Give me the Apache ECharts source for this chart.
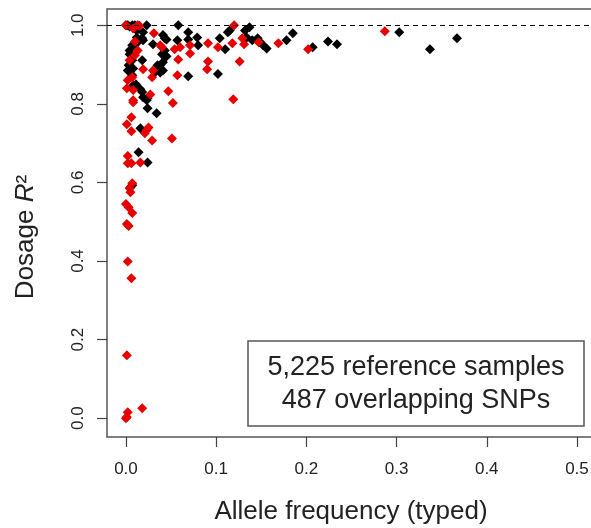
<!DOCTYPE html>
<html>
<head>
<meta charset="utf-8">
<script src="https://cdn.jsdelivr.net/npm/echarts@6/dist/echarts.min.js"></script>
<style>html,body{margin:0;padding:0;background:#fff}#c{width:591px;height:528px}</style>
</head>
<body>
<div id="c"></div>
<script>
// Black points: [allele frequency, dosage R2]
var blackPoints = [
[0.000,1.000],[0.002,1.000],[0.004,0.997],[0.007,1.000],[0.010,1.000],[0.023,1.000],[0.058,1.000],
[0.012,0.987],[0.019,0.982],[0.012,0.969],[0.018,0.967],[0.013,0.957],[0.019,0.962],[0.041,0.975],[0.045,0.964],[0.043,0.967],[0.069,0.982],[0.069,0.964],[0.079,0.969],[0.057,0.962],
[0.007,0.949],[0.008,0.947],[0.030,0.952],[0.080,0.949],
[0.004,0.936],[0.043,0.936],[0.040,0.926],[0.004,0.926],[0.045,0.921],
[0.018,0.911],[0.007,0.911],[0.041,0.906],[0.035,0.898],[0.038,0.898],[0.003,0.898],
[0.002,0.885],[0.008,0.890],[0.041,0.885],[0.038,0.880],[0.032,0.880],[0.007,0.873],[0.069,0.870],[0.102,0.876],
[0.011,0.850],[0.008,0.847],[0.007,0.842],[0.016,0.837],[0.018,0.830],[0.019,0.817],[0.023,0.809],[0.024,0.814],[0.024,0.789],[0.034,0.776],
[0.016,0.738],[0.014,0.677],[0.024,0.651],[0.007,0.593],[0.005,0.588],
[0.104,0.967],[0.110,0.939],[0.113,0.982],[0.115,0.987],[0.132,0.987],[0.137,0.995],[0.134,0.969],[0.140,0.962],[0.146,0.967],[0.149,0.957],[0.152,0.949],[0.156,0.941],[0.178,0.962],[0.185,0.980],[0.207,0.944],[0.224,0.959],[0.234,0.952],[0.303,0.982],[0.337,0.939],[0.367,0.967]
];
// Red points
var redPoints = [
[0.000,1.000],[0.013,1.000],[0.015,0.999],[0.120,1.000],[0.008,0.992],[0.031,0.980],[0.010,0.959],[0.038,0.949],[0.040,0.944],[0.060,0.944],[0.054,0.939],[0.071,0.949],[0.071,0.928],[0.013,0.936],[0.010,0.924],[0.004,0.911],[0.019,0.888],[0.030,0.885],[0.058,0.913],[0.057,0.873],[0.007,0.868],[0.002,0.860],[0.029,0.868],[0.008,0.835],[0.001,0.840],[0.027,0.824],[0.047,0.832],[0.008,0.809],[0.008,0.804],
[0.091,0.954],[0.102,0.944],[0.118,0.954],[0.129,0.967],[0.131,0.952],[0.147,0.957],[0.169,0.954],[0.202,0.939],[0.287,0.985],[0.091,0.908],[0.090,0.888],[0.126,0.908],[0.119,0.812],[0.052,0.802],
[0.006,0.766],[0.001,0.748],[0.006,0.730],[0.025,0.740],[0.023,0.733],[0.021,0.725],[0.029,0.707],[0.051,0.712],[0.002,0.667],[0.002,0.649],[0.006,0.649],[0.016,0.651],
[0.007,0.598],[0.004,0.585],[0.005,0.575],[0.000,0.545],[0.003,0.537],[0.007,0.522],[0.001,0.494],[0.003,0.489],[0.002,0.399],[0.006,0.356],[0.001,0.160],[0.018,0.025],[0.002,0.015],[0.001,0.003],[0.000,0.000]
];
var xTicks = [0, 0.1, 0.2, 0.3, 0.4, 0.5];
var yTicks = [0, 0.2, 0.4, 0.6, 0.8, 1.0];
var refLine = 1.0;
var legendLines = ['5,225 reference samples', '487 overlapping SNPs'];

var FONT = 'Liberation Sans';
var chart = echarts.init(document.getElementById('c'), null, {renderer: 'canvas'});
var option = {
  animation: false,
  backgroundColor: '#fff',
  textStyle: {fontFamily: FONT},
  grid: {left: 107, top: 9, right: -4, bottom: 91, containLabel: false, outerBoundsMode: 'none',
         show: true, borderColor: '#555', borderWidth: 1.5, backgroundColor: 'transparent'},
  xAxis: {
    type: 'value', min: -0.021, max: 0.52,
    axisLine: {show: false, onZero: false},
    splitLine: {show: false},
    axisTick: {show: true, customValues: xTicks, length: 10, lineStyle: {color: '#444', width: 1.2}},
    axisLabel: {customValues: xTicks, formatter: function(v){return v.toFixed(1);}, fontSize: 17, color: '#222', margin: 24, fontFamily: FONT},
    name: 'Allele frequency (typed)', nameLocation: 'middle', nameGap: 62,
    nameTextStyle: {fontSize: 26, color: '#222', fontFamily: FONT}
  },
  yAxis: {
    type: 'value', min: -0.048, max: 1.0415,
    axisLine: {show: false, onZero: false},
    splitLine: {show: false},
    axisTick: {show: true, customValues: yTicks, length: 10, lineStyle: {color: '#444', width: 1.2}},
    axisLabel: {customValues: yTicks, formatter: function(v){return v.toFixed(1);}, fontSize: 17, color: '#222', margin: 20, rotate: 90, fontFamily: FONT},
    name: '{a|Dosage }{i|R}{a|²}', nameLocation: 'middle', nameGap: 68, nameRotate: 90,
    nameTextStyle: {fontSize: 26, color: '#222', fontFamily: FONT, padding: [0, 28, 0, 0],
      rich: {a: {fontSize: 26, color: '#222', fontFamily: FONT}, i: {fontSize: 26, color: '#222', fontStyle: 'italic', fontFamily: FONT}}}
  },
  series: [
    {type: 'scatter', name: 'black', data: blackPoints, symbol: 'diamond', symbolSize: 10, itemStyle: {color: '#000', opacity: 1}, silent: true,
     markLine: {silent: true, symbol: 'none', label: {show: false}, lineStyle: {color: '#000', width: 1, type: [5, 4]}, data: [{yAxis: refLine}]}},
    {type: 'scatter', name: 'red', data: redPoints, symbol: 'diamond', symbolSize: 10, itemStyle: {color: '#e60000', opacity: 1}, silent: true}
  ],
  graphic: [
    {type: 'rect', shape: {x: 248, y: 341, width: 336, height: 85}, style: {fill: '#fff', stroke: '#555', lineWidth: 1.5}, z: 10},
    {type: 'text', x: 416, y: 368, style: {text: legendLines[0], fontSize: 27, fontFamily: FONT, fill: '#222', textAlign: 'center', textVerticalAlign: 'middle'}, z: 11},
    {type: 'text', x: 416, y: 401, style: {text: legendLines[1], fontSize: 27, fontFamily: FONT, fill: '#222', textAlign: 'center', textVerticalAlign: 'middle'}, z: 11}
  ]
};
chart.setOption(option);
</script>
</body>
</html>
